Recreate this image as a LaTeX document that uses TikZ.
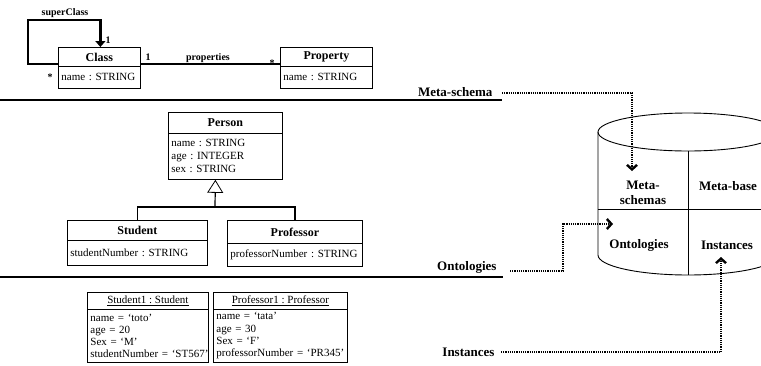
\documentclass[tikz,border=0pt]{standalone}
\usepackage{fontspec}
\setmainfont{Liberation Serif}
\usetikzlibrary{positioning,calc,arrows.meta}

\tikzset{
  box/.style={draw,line width=0.8pt,anchor=north west,inner sep=0pt},
  head/.style={box,font=\fontsize{12}{14}\selectfont\bfseries},
  ihead/.style={box,font=\fontsize{11}{13}\selectfont},
  body/.style={box,align=left,inner xsep=3pt,inner ysep=1pt,font=\fontsize{11}{13}\selectfont},
  ibody/.style={body,font=\fontsize{11}{12.3}\selectfont},
  lbl/.style={font=\fontsize{13}{15}\selectfont\bfseries},
  mult/.style={font=\fontsize{10}{12}\selectfont\bfseries},
  cell/.style={font=\fontsize{13}{14.5}\selectfont\bfseries,align=center},
  sep/.style={line width=1.6pt},
  dots/.style={line width=2.4pt,dash pattern=on 1.2pt off 1pt,
    -{Straight Barb[length=4.5pt,width=10pt,line width=2.4pt]}}
}

\begin{document}
\frenchspacing
\begin{tikzpicture}[x=1pt,y=-1pt]
\clip (0,0) rectangle (761,365);

\node[head,minimum width=82,minimum height=19] (class) at (58,47) {Class};
\node[body,text width=76,minimum height=22] (classb) at (58,66) {name : STRING};
\node[head,minimum width=92,minimum height=19] (prop) at (280,47) {Property};
\node[body,text width=86,minimum height=22] (propb) at (280,66) {name : STRING};

\coordinate (sc) at (28,20);
\draw[line width=2.4pt,-{Triangle[length=6pt,width=10pt]}] ([yshift=2]classb.north west) -| (sc) -| ([xshift=1]class.north);
\node[mult] (lsuper) at (65,13) {superClass};
\node[mult] (one1) at (108,40) {1};
\node[mult] (star1) at (50,77) {*};

\draw[line width=1.2pt] ([yshift=2]classb.north east) -- ([yshift=2]propb.north west);
\node[mult] (one2) at (148,57) {1};
\node[mult] (lprop) at (208,58) {properties};
\node[mult] (star2) at (272,63) {*};

\draw[sep] (0,100) -- (502,100);

\node[head,minimum width=114,minimum height=21] (person) at (168,112) {Person};
\node[body,text width=108,minimum height=46] (personb) at (168,133) {name : STRING\\age : INTEGER\\sex : STRING};
\node[head,minimum width=140,minimum height=20] (student) at (67,220) {Student};
\node[body,text width=134,minimum height=25] (studentb) at (67,240) {studentNumber : STRING};
\node[head,minimum width=135,minimum height=23] (prof) at (227,220) {Professor};
\node[body,text width=129,minimum height=23] (profb) at (227,243) {professorNumber : STRING};

\coordinate (gen) at (215,207);
\draw[line width=1.2pt] (student.north) |- (gen) -| (prof.north);
\draw[line width=1.2pt,-{Triangle[open,length=13pt,width=16pt,line width=0.8pt]}] (gen) -- ([xshift=-10]personb.south);

\draw[sep] (0,277) -- (503,277);

\node[ihead,minimum width=121,minimum height=17] (stud1) at (87,292) {\underline{Student1 : Student}};
\node[ibody,text width=115,minimum height=53] (stud1b) at (87,309) {name = ‘toto’\\age = 20\\Sex = ‘M’\\\mbox{studentNumber = ‘ST567’}};
\node[ihead,minimum width=134,minimum height=17] (prof1) at (213,292) {\underline{Professor1 : Professor}};
\node[ibody,text width=128,minimum height=53] (prof1b) at (213,309) {name = ‘tata’\\age = 30\\Sex = ‘F’\\\mbox{professorNumber = ‘PR345’}};

\node[lbl,anchor=east] (lmeta) at (496,92) {Meta-schema};
\node[lbl,anchor=east] (lonto) at (500,267) {Ontologies};
\node[lbl,anchor=east] (linst) at (498,352) {Instances};

\draw[line width=0.9pt] (688,132) ellipse [x radius=90, y radius=19];
\draw[line width=0.9pt] (598,132) -- (598,255) arc[start angle=180, end angle=0, x radius=90, y radius=20] -- (778,132);
\draw[line width=0.9pt] (688,151) -- (688,275);
\draw[line width=0.9pt] (598,209) -- (778,209);

\node[cell] (cmeta) at (643,193) {Meta-\\schemas};
\node[cell] (cbase) at (728,186) {Meta-base};
\node[cell] (conto) at (639,245) {Ontologies};
\node[cell] (cinst) at (727,245) {Instances};

\coordinate (tipmeta) at (632,171);
\coordinate (ontobend) at (563,224);
\coordinate (tiponto) at (613,224);
\coordinate (tipinst) at (721,257);
\draw[dots] ([xshift=6,yshift=-1]lmeta.east) -| (tipmeta);
\draw[dots] ([xshift=10,yshift=-4]lonto.east) -| (ontobend) -- (tiponto);
\draw[dots] ([xshift=3]linst.east) -| (tipinst);
\end{tikzpicture}
\end{document}
